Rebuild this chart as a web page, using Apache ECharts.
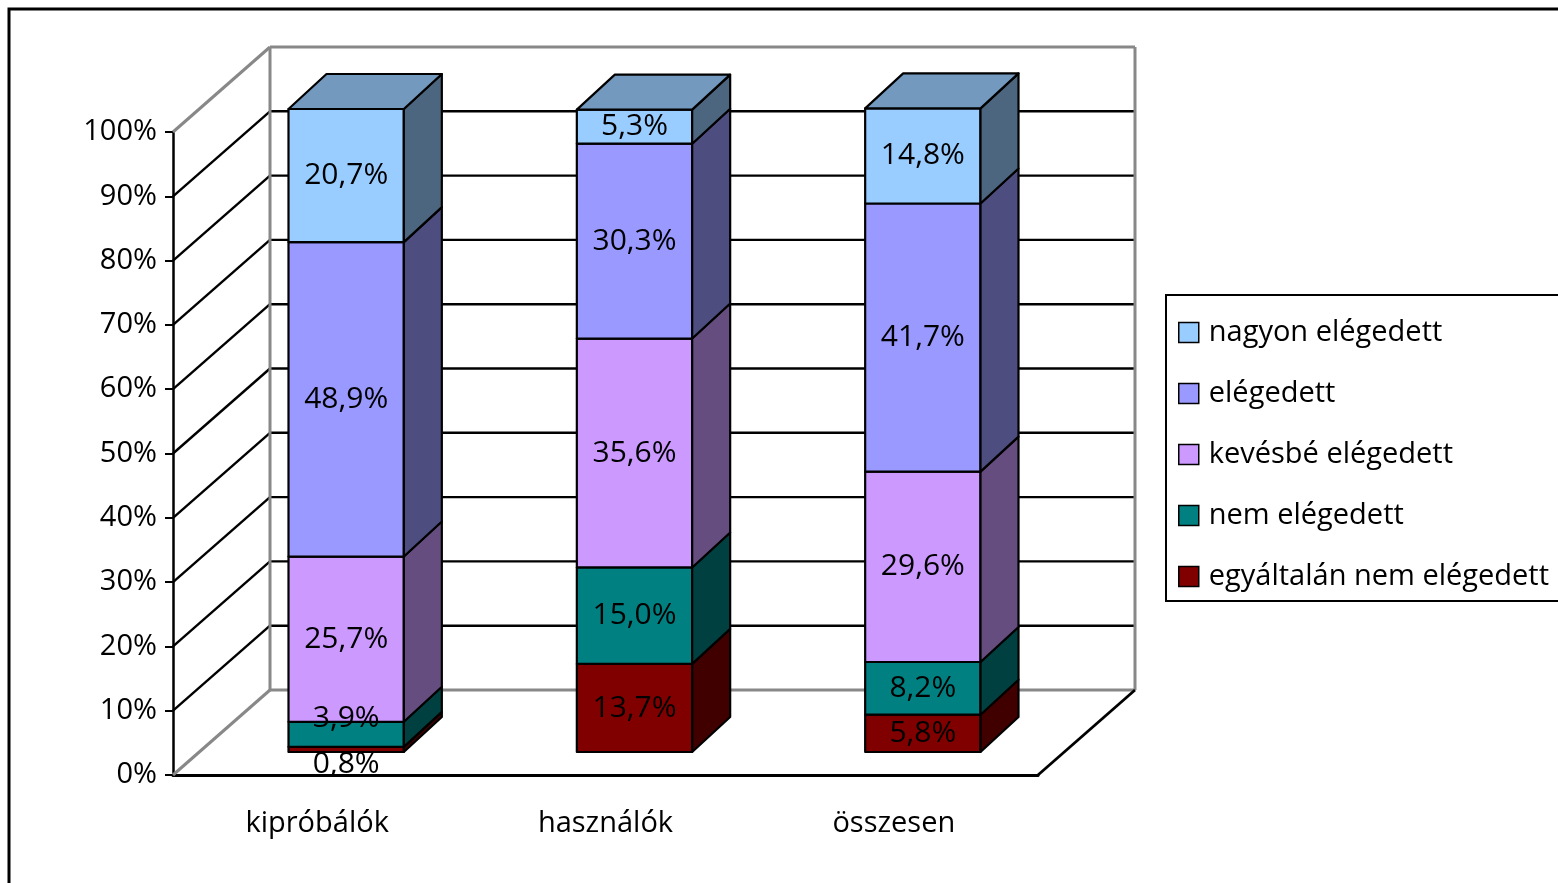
<!DOCTYPE html>
<html>
<head>
<meta charset="utf-8">
<script src="https://cdn.jsdelivr.net/npm/echarts@6/dist/echarts.min.js"></script>
<style>
html, body { margin: 0; padding: 0; background: #fff; }
#main { width: 1558px; height: 883px; }
</style>
</head>
<body>
<div id="main"></div>
<script>
// adatok
var categories = ['kipróbálók', 'használók', 'összesen'];
var seriesNames = ['egyáltalán nem elégedett', 'nem elégedett', 'kevésbé elégedett', 'elégedett', 'nagyon elégedett'];
var egyaltalanNem = [0.8, 13.7, 5.8];
var nemElegedett = [3.9, 15.0, 8.2];
var kevesbeElegedett = [25.7, 35.6, 29.6];
var elegedett = [48.9, 30.3, 41.7];
var nagyonElegedett = [20.7, 5.3, 14.8];
var yTicks = [0, 10, 20, 30, 40, 50, 60, 70, 80, 90, 100];

var values = [egyaltalanNem, nemElegedett, kevesbeElegedett, elegedett, nagyonElegedett];
var colors = ['#800000', '#008080', '#CC99FF', '#9999FF', '#99CCFF'];

// 3D eltolások (pixel)
var WALL = [97, -85];
var BAR_OFF = [29, -23];
var BAR_DEPTH = [38, -35];
var FONT = '"Open Sans", "Noto Sans", sans-serif';

function shade(hex, f) {
    var n = parseInt(hex.slice(1), 16);
    var r = Math.round(((n >> 16) & 255) * f);
    var g = Math.round(((n >> 8) & 255) * f);
    var b = Math.round((n & 255) * f);
    return 'rgb(' + r + ',' + g + ',' + b + ')';
}

function fmt(v) {
    return v.toFixed(1).replace('.', ',') + '%';
}

// címkék függőleges helye, átfedés esetén széthúzva
function labelCenters(api, i) {
    var ys = [];
    var acc = 0;
    for (var k = 0; k < values.length; k++) {
        var lo = api.coord([i, acc])[1];
        acc += values[k][i];
        var hi = api.coord([i, acc])[1];
        ys.push((lo + hi) / 2 + BAR_OFF[1]);
    }
    var minGap = 46;
    for (var k = 0; k < ys.length - 1; k++) {
        if (ys[k] - ys[k + 1] < minGap && ys[k] - ys[k + 1] < 30) {
            var mid = (ys[k] + ys[k + 1]) / 2;
            ys[k] = mid + minGap / 2;
            ys[k + 1] = mid - minGap / 2;
        }
    }
    return ys;
}

function renderBar(k) {
    return function (params, api) {
        var i = api.value(0);
        var lo = api.value(1), hi = api.value(2);
        var c = api.coord([i, lo]);
        var t = api.coord([i, hi]);
        var w = api.size([1, 0])[0] * 0.4;
        var xl = c[0] - w / 2 + BAR_OFF[0];
        var xr = xl + w;
        var yb = c[1] + BAR_OFF[1];
        var yt = t[1] + BAR_OFF[1];
        var dx = BAR_DEPTH[0], dy = BAR_DEPTH[1];
        var line = { stroke: '#000', lineWidth: 2.2, lineJoin: 'round' };
        var children = [
            {
                type: 'rect',
                shape: { x: xl, y: yt, width: w, height: yb - yt },
                style: Object.assign({ fill: colors[k] }, line)
            },
            {
                type: 'polygon',
                shape: { points: [[xr, yt], [xr, yb], [xr + dx, yb + dy], [xr + dx, yt + dy]] },
                style: Object.assign({ fill: shade(colors[k], 0.5) }, line)
            }
        ];
        if (k === values.length - 1) {
            children.push({
                type: 'polygon',
                shape: { points: [[xl, yt], [xr, yt], [xr + dx, yt + dy], [xl + dx, yt + dy]] },
                style: Object.assign({ fill: shade(colors[k], 0.75) }, line)
            });
        }
        var ly = labelCenters(api, i)[k];
        children.push({
            type: 'text',
            z2: 100,
            style: {
                text: fmt(api.value(3)),
                x: (xl + xr) / 2,
                y: ly,
                fill: '#000',
                font: '30px ' + FONT,
                align: 'center',
                verticalAlign: 'middle'
            }
        });
        return { type: 'group', children: children };
    };
}

function renderFrame(params, api) {
    var cs = params.coordSys;
    var x0 = cs.x, x1 = cs.x + cs.width;
    var dx = WALL[0], dy = WALL[1];
    var gray = { stroke: '#888', lineWidth: 3 };
    var black = { stroke: '#000', lineWidth: 2.4 };
    var y0 = api.coord([0, yTicks[0]])[1];
    var yMax = api.coord([0, yTicks[yTicks.length - 1]])[1];
    var ch = [];
    function ln(a, b, s) {
        ch.push({ type: 'line', shape: { x1: a[0], y1: a[1], x2: b[0], y2: b[1] }, style: s });
    }
    for (var j = 1; j < yTicks.length - 1; j++) {
        var y = api.coord([0, yTicks[j]])[1];
        ln([x0, y], [x0 + dx, y + dy], black);
        ln([x0 + dx, y + dy], [x1 + dx, y + dy], black);
    }
    // falak széle
    ln([x0 + dx, yMax + dy], [x1 + dx, yMax + dy], gray);
    ln([x0, yMax], [x0 + dx, yMax + dy], gray);
    ln([x0 + dx, y0 + dy], [x1 + dx, y0 + dy], gray);
    ln([x0, y0], [x0 + dx, y0 + dy], gray);
    ln([x0 + dx, yMax + dy], [x0 + dx, y0 + dy], gray);
    ln([x1 + dx, yMax + dy], [x1 + dx, y0 + dy], gray);
    ln([x1, y0], [x1 + dx, y0 + dy], { stroke: '#000', lineWidth: 2.8 });
    return { type: 'group', children: ch };
}

var series = [{
    type: 'custom',
    name: 'frame',
    z: 1,
    silent: true,
    clip: false,
    renderItem: renderFrame,
    data: [[0]]
}];

for (var k = 0; k < values.length; k++) {
    var data = [];
    for (var i = 0; i < categories.length; i++) {
        var base = 0;
        for (var m = 0; m < k; m++) base += values[m][i];
        data.push([i, base, base + values[k][i], values[k][i]]);
    }
    series.push({
        type: 'custom',
        name: seriesNames[k],
        clip: false,
        itemStyle: { color: colors[k] },
        renderItem: renderBar(k),
        encode: { x: 0, y: [1, 2] },
        data: data
    });
}

var myChart = echarts.init(document.getElementById('main'));
myChart.setOption({
    animation: false,
    textStyle: { fontFamily: FONT },
    graphic: [{
        type: 'rect',
        silent: true,
        shape: { x: 9, y: 9, width: 1620, height: 920 },
        style: { fill: 'none', stroke: '#000', lineWidth: 3 }
    }],
    grid: { left: 173, top: 132, width: 865, height: 643, containLabel: false },
    legend: {
        data: seriesNames.slice().reverse(),
        orient: 'vertical',
        left: 1166,
        top: 295,
        padding: [23, 40, 10, 12],
        itemWidth: 20,
        itemHeight: 20,
        itemGap: 32,
        icon: 'rect',
        borderColor: '#000',
        borderWidth: 2,
        itemStyle: { borderColor: '#000', borderWidth: 1.5 },
        textStyle: { fontFamily: FONT, fontSize: 29, color: '#000', padding: [0, 0, 0, 5] }
    },
    xAxis: {
        type: 'category',
        data: categories,
        axisLine: { lineStyle: { color: '#000', width: 3 } },
        axisTick: { length: 8, lineStyle: { color: '#000', width: 2 } },
        axisLabel: { color: '#000', fontSize: 29, fontFamily: FONT, margin: 34 }
    },
    yAxis: {
        type: 'value',
        min: 0,
        max: 100,
        interval: 10,
        axisLine: { show: true, lineStyle: { color: '#000', width: 2.5 } },
        axisTick: { show: true, length: 8, lineStyle: { color: '#000', width: 2 } },
        splitLine: { show: false },
        axisLabel: { color: '#000', fontSize: 29, fontFamily: FONT, margin: 16, formatter: '{value}%' }
    },
    series: series
});
</script>
</body>
</html>
